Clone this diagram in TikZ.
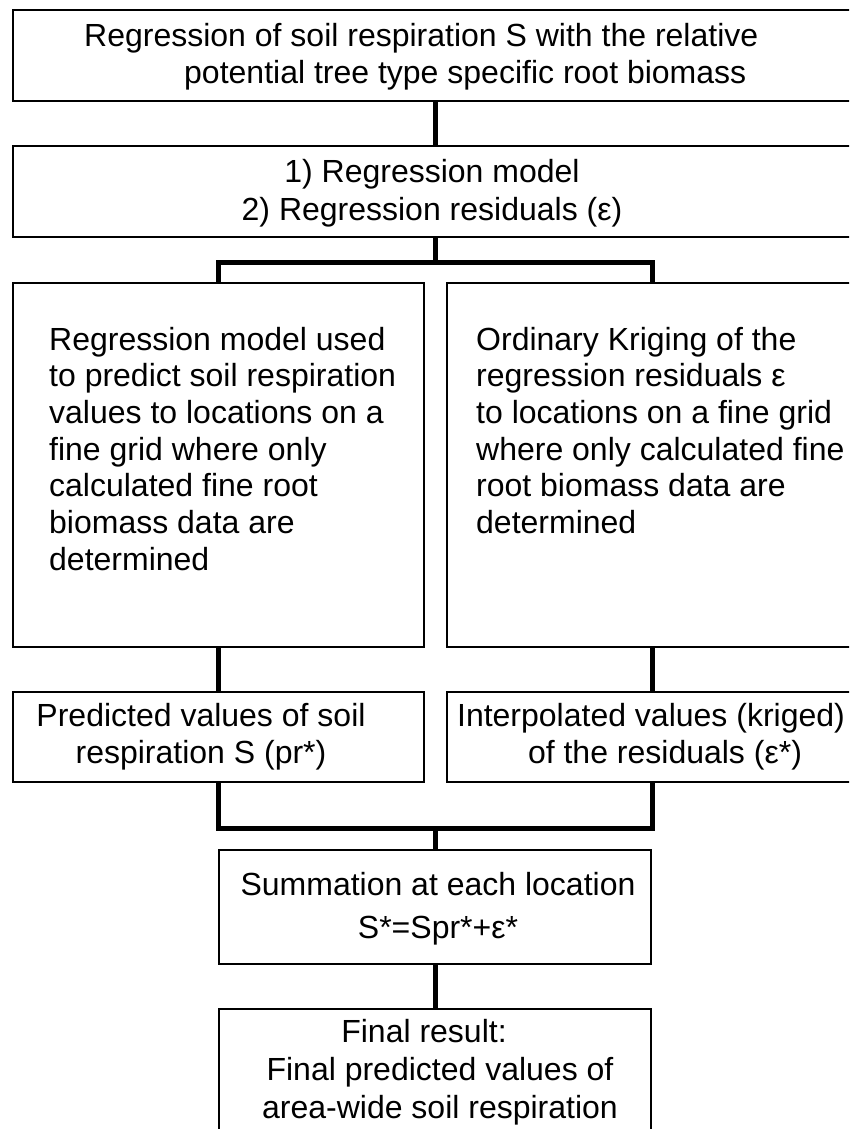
\documentclass[tikz,border=0pt]{standalone}
\usepackage{fontspec}
\setmainfont{Liberation Sans}
\newcommand{\mlines}[3]{{\fontsize{32}{#2}\selectfont\begin{tabular}[t]{@{}#1@{}}#3\end{tabular}}}
\begin{document}
\begin{tikzpicture}[x=1pt,y=-1pt,
  box/.style={draw, line width=1.5pt, rectangle, inner sep=0pt, outer sep=0pt, anchor=north west},
  conn/.style={line width=5pt, line join=miter},
  txt/.style={inner sep=0pt}]
\useasboundingbox (0,0) rectangle (849,1129);
\clip (0,0) rectangle (849,1129);
\fill[white] (0,0) rectangle (849,1129);
% boxes
\node[box, minimum width=845pt, minimum height=91pt] (top) at (13,10) {};
\node[box, minimum width=845pt, minimum height=91pt] (reg) at (13,146) {};
\node[box, minimum width=411pt, minimum height=364pt] (lbig) at (13,283) {};
\node[box, minimum width=411pt, minimum height=364pt] (rbig) at (447,283) {};
\node[box, minimum width=411pt, minimum height=90pt] (pred) at (13,692) {};
\node[box, minimum width=411pt, minimum height=90pt] (interp) at (447,692) {};
\node[box, minimum width=432pt, minimum height=114pt] (sum) at (219,850) {};
\node[box, minimum width=432pt, minimum height=130pt] (final) at (219,1009) {};
% texts
\node[txt, anchor=base west] (ttop) at (84,47) {\mlines{l}{37}{Regression of soil respiration S with the relative\\\hspace*{100pt}potential tree type specific root biomass}};
\node[txt, anchor=base] (treg) at (432,182) {\mlines{c}{38}{1) Regression model\\2) Regression residuals (ε)}};
\node[txt, anchor=base west] (tlbig) at (49,350) {\mlines{l}{36.7}{Regression model used\\to predict soil respiration\\values to locations on a\\fine grid where only\\calculated fine root\\biomass data are\\determined}};
\node[txt, anchor=base west] (trbig) at (476,350) {\mlines{l}{36.7}{Ordinary Kriging of the\\regression residuals ε\\to locations on a fine grid\\where only calculated fine\\root biomass data are\\determined}};
\node[txt, anchor=base] (tpred) at (201,726) {\mlines{c}{37}{Predicted values of soil\\respiration S (pr*)}};
\node[txt, anchor=base] (tinterp) at (651,726) {\mlines{c}{37}{Interpolated values (kriged)\\\hspace*{28pt}of the residuals (ε*)}};
\node[txt, anchor=base] (tsum) at (438,895) {\mlines{c}{43}{Summation at each location\\S*=Spr*+ε*}};
\node[txt, anchor=base] (tfinal) at (440,1042) {\mlines{c}{38}{\hspace*{-32pt}Final result:\\Final predicted values of\\area-wide soil respiration}};
% connectors
\path (reg.south) ++(0,25) coordinate (s1);
\path (sum.north) ++(0,-22) coordinate (s2);
\draw[conn] (top.south) -- (reg.north);
\draw[conn] (reg.south) -- (s1);
\draw[conn] (lbig.north) |- (s1) -| (rbig.north);
\draw[conn] (lbig.south) -- (pred.north);
\draw[conn] (rbig.south) -- (interp.north);
\draw[conn] (pred.south) |- (s2) -| (interp.south);
\draw[conn] (s2) -- (sum.north);
\draw[conn] (sum.south) -- (final.north);
\end{tikzpicture}
\end{document}
